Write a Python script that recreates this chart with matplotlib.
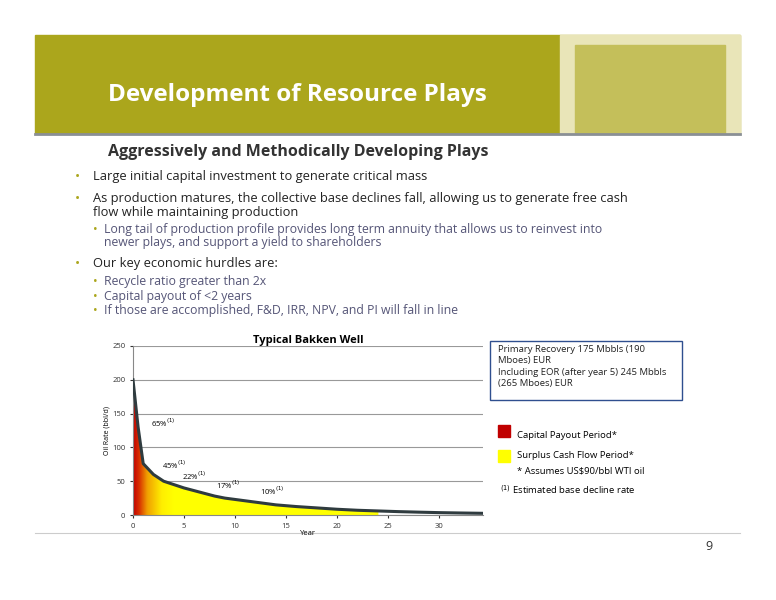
import numpy as np
import matplotlib
matplotlib.use('Agg')
import matplotlib.pyplot as plt
from matplotlib.colors import LinearSegmentedColormap
from matplotlib.patches import Rectangle

plt.rcParams['font.family'] = ['Open Sans', 'DejaVu Sans']

years = [0, 0.5, 1, 1.5, 2, 3, 4, 5, 6, 7, 8, 9, 10, 12, 14, 16, 18, 20, 22, 24, 26, 28, 30, 32, 34.3]
rate = [200, 130, 76, 68, 60, 50, 45, 40, 36, 32, 28, 25, 23, 19, 15, 12.5, 10.5, 8.5, 7, 6, 5, 4.2, 3.5, 3, 2.5]
decline_labels = ['65%', '45%', '22%', '17%', '10%']
decline_x = [1.8, 2.8, 4.8, 8.1, 12.4]
decline_y = [130, 68, 52, 38, 30]
bullets = [
    (0, 'Large initial capital investment to generate critical mass'),
    (0, 'As production matures, the collective base declines fall, allowing us to generate free cash\nflow while maintaining production'),
    (1, 'Long tail of production profile provides long term annuity that allows us to reinvest into\nnewer plays, and support a yield to shareholders'),
    (0, 'Our key economic hurdles are:'),
    (1, 'Recycle ratio greater than 2x'),
    (1, 'Capital payout of <2 years'),
    (1, 'If those are accomplished, F&D, IRR, NPV, and PI will fall in line'),
]
bullet_y = [170, 192, 223, 257, 275, 290, 304]

W, H = 776, 600
fig = plt.figure(figsize=(W / 100, H / 100), dpi=100)
bg = fig.add_axes([0, 0, 1, 1])
bg.set_xlim(0, W); bg.set_ylim(H, 0); bg.axis('off')

# header band
bg.add_patch(Rectangle((35, 35), 705, 98, color='#aba61c'))
bg.add_patch(Rectangle((560, 35), 180, 98, color='#e9e5b8'))
bg.add_patch(Rectangle((575, 45), 150, 88, color='#c4bf5a'))
bg.plot([35, 740], [134, 134], color='#8a8f95', lw=2)
bg.text(108, 95, 'Development of Resource Plays', color='white', fontsize=17.5,
        fontweight='bold', va='center')
bg.text(108, 152, 'Aggressively and Methodically Developing Plays', color='#333333',
        fontsize=11.5, fontweight='bold', va='center')
for (lvl, txt), y in zip(bullets, bullet_y):
    if lvl == 0:
        bg.text(75, y, '\u2022', color='#aba61c', fontsize=10, va='top')
        bg.text(93, y, txt, color='#222222', fontsize=9.3, va='top', linespacing=1.1)
    else:
        bg.text(93, y, '\u2022', color='#aba61c', fontsize=9, va='top')
        bg.text(104, y, txt, color='#555577', fontsize=8.8, va='top', linespacing=1.0)

# right side notes
bg.add_patch(Rectangle((490, 341), 192, 59, fill=False, ec='#2f4f8f', lw=1))
bg.text(498, 345, 'Primary Recovery 175 Mbbls (190\nMboes) EUR\nIncluding EOR (after year 5) 245 Mbbls\n(265 Mboes) EUR',
        fontsize=6.8, va='top', color='#222222', linespacing=1.35)
bg.add_patch(Rectangle((498, 425), 12, 12, color='#c00000'))
bg.add_patch(Rectangle((498, 450), 12, 12, color='#ffff00'))
bg.text(517, 436, 'Capital Payout Period*', fontsize=6.8, va='center')
bg.text(517, 455, 'Surplus Cash Flow Period*', fontsize=6.8, va='center')
bg.text(517, 471, '* Assumes US$90/bbl WTI oil', fontsize=6.8, va='center')
bg.text(500, 490, '$^{(1)}$ Estimated base decline rate', fontsize=6.8, va='center')

bg.plot([35, 740], [533, 533], color='#cccccc', lw=0.8)
bg.text(705, 547, '9', fontsize=9, va='center', color='#333333')

# chart
ax = fig.add_axes([133 / W, 1 - 515 / H, (483 - 133) / W, (515 - 346) / H])
ax.set_xlim(0, 34.3); ax.set_ylim(0, 250)
ax.set_yticks(range(0, 251, 50)); ax.set_xticks(range(0, 31, 5))
ax.grid(axis='y', color='#999999', lw=0.8)
ax.set_axisbelow(True)
for s in ['top', 'right']:
    ax.spines[s].set_visible(False)
for s in ['left', 'bottom']:
    ax.spines[s].set_color('#888888')
ax.tick_params(labelsize=5.5, length=2, colors='#333333')
cmap = LinearSegmentedColormap.from_list(
    'ry', [(0, '#c00000'), (0.15, '#d83000'), (0.35, '#f0a000'), (0.7, '#ffee00'), (1, '#ffff00')])
grad = np.linspace(0, 1, 256)[None, :]
im = ax.imshow(grad, extent=[0, 4, 0, 250], aspect='auto', cmap=cmap, zorder=2)
yr = np.array(years); rt = np.array(rate)
mask = yr <= 25
poly = ax.fill_between(yr[mask], rt[mask], 0, color='#ffff00', zorder=1, lw=0)
path = poly.get_paths()[0]
im.set_clip_path(path, transform=ax.transData)
ax.plot(years, rate, color='#2f3b3f', lw=2.2, zorder=3)
for lab, x, y in zip(decline_labels, decline_x, decline_y):
    ax.text(x, y, lab + '$^{(1)}$', fontsize=5.5, zorder=4)
ax.set_title('Typical Bakken Well', fontsize=8, fontweight='bold', pad=2)
ax.set_xlabel('Year', fontsize=5.5, labelpad=0)
ax.set_ylabel('Oil Rate (bbl/d)', fontsize=5, labelpad=1)

fig.savefig('out.png', dpi=100)
